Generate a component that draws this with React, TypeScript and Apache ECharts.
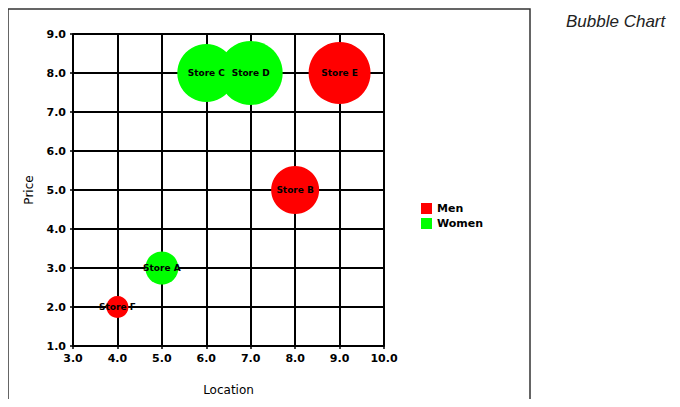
import React, { useEffect, useRef } from "react";
import * as echarts from "echarts";

const seriesNames = ["Men", "Women"];
const seriesColors = ["#ff0000", "#00ff00"];
// [location, price, bubble size, label]
const menData: [number, number, number, string][] = [
  [4, 2, 22, "Store F"],
  [8, 5, 48, "Store B"],
  [9, 8, 62, "Store E"],
];
const womenData: [number, number, number, string][] = [
  [5, 3, 33, "Store A"],
  [6, 8, 58, "Store C"],
  [7, 8, 64, "Store D"],
];
const xTicks = { min: 3, max: 10, interval: 1 };
const yTicks = { min: 1, max: 9, interval: 1 };

export default function App() {
  const ref = useRef<HTMLDivElement>(null);
  useEffect(() => {
    if (!ref.current) return;
    const chart = echarts.init(ref.current, null, { renderer: "svg" });
    const font = "DejaVu Sans, sans-serif";
    const mk = (name: string, data: any[], color: string) => ({
      name,
      type: "scatter",
      data,
      symbolSize: (v: any) => v[2],
      itemStyle: { color, opacity: 1 },
      label: {
        show: true,
        position: "inside",
        overflow: "none",
        width: 100,
        formatter: (p: any) => p.data[3],
        color: "#000",
        fontSize: 9,
        fontWeight: "bold",
        fontFamily: font,
      },
      labelLayout: { hideOverlap: false },
      emphasis: { disabled: true },
    });
    const axisLabel = {
      formatter: (v: number) => v.toFixed(1),
      fontSize: 11,
      fontWeight: "bold",
      color: "#000",
      margin: 7,
      fontFamily: font,
    };
    chart.setOption({
      animation: false,
      backgroundColor: "#fff",
      title: {
        text: "Bubble Chart",
        left: 561,
        top: 8,
        textStyle: {
          fontSize: 17,
          fontStyle: "italic",
          fontWeight: "normal",
          color: "#222",
          fontFamily: "Liberation Sans, Arial, sans-serif",
        },
      },
      graphic: [
        {
          type: "rect",
          shape: { x: 8, y: 9, width: 522, height: 420 },
          style: { fill: "none", stroke: "#333", lineWidth: 1.5 },
          silent: true,
          z: -1,
        },
      ],
      legend: {
        orient: "vertical",
        left: 416,
        top: 198,
        itemWidth: 11,
        itemHeight: 11,
        itemGap: 4,
        icon: "rect",
        data: seriesNames,
        textStyle: { fontSize: 11, fontWeight: "bold", color: "#000", fontFamily: font },
      },
      grid: { left: 73, right: 296, top: 34, bottom: 61 },
      xAxis: {
        type: "value",
        min: xTicks.min,
        max: xTicks.max,
        interval: xTicks.interval,
        name: "Location",
        nameLocation: "middle",
        nameGap: 38,
        nameTextStyle: { fontSize: 12, color: "#000", fontFamily: font },
        axisLine: { lineStyle: { color: "#000", width: 2 } },
        axisTick: { show: true, length: 3, lineStyle: { color: "#000", width: 1.5 } },
        axisLabel,
        splitLine: { show: true, lineStyle: { color: "#000", width: 2 } },
      },
      yAxis: {
        type: "value",
        min: yTicks.min,
        max: yTicks.max,
        interval: yTicks.interval,
        name: "Price",
        nameLocation: "middle",
        nameGap: 38,
        nameTextStyle: { fontSize: 12, color: "#000", fontFamily: font },
        axisLine: { show: true, lineStyle: { color: "#000", width: 2 } },
        axisTick: { show: true, length: 3, lineStyle: { color: "#000", width: 1.5 } },
        axisLabel,
        splitLine: { show: true, lineStyle: { color: "#000", width: 2 } },
      },
      series: [
        mk(seriesNames[0], menData, seriesColors[0]),
        mk(seriesNames[1], womenData, seriesColors[1]),
      ],
    });
    return () => chart.dispose();
  }, []);
  return <div ref={ref} style={{ width: 680, height: 407, margin: -8 }} />;
}
